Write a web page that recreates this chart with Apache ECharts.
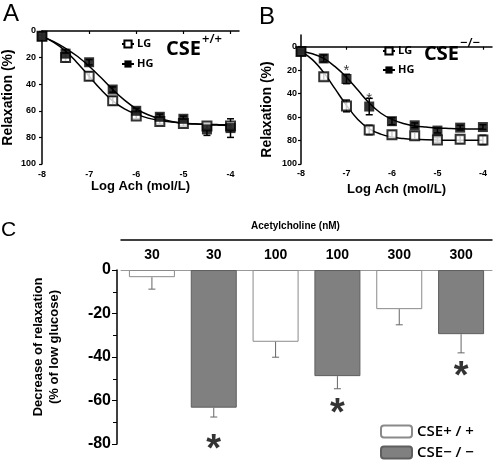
<!DOCTYPE html>
<html>
<head>
<meta charset="utf-8">
<script src="https://cdn.jsdelivr.net/npm/echarts@6/dist/echarts.min.js"></script>
<style>
html,body{margin:0;padding:0;background:#fff;}
#chart{width:495px;height:461px;}
</style>
</head>
<body>
<div id="chart"></div>
<script>
// ---------- Data ----------
const logAch = [-8, -7.5, -7, -6.5, -6, -5.5, -5, -4.5, -4];
const xTicks = [-8, -7, -6, -5, -4];
const yTicks = [0, 20, 40, 60, 80, 100];

// Panel A (CSE+/+)
const A_LG = [4, 20, 34, 52.5, 64, 68, 69.5, 71.5, 71.5];
const A_HG = [4, 17, 23.5, 44, 60, 64.5, 66, 74, 73];
const A_LG_err = [1, 3, 3, 3, 2, 2, 2, 2, 2];
const A_HG_err = [1, 3, 2, 2, 2, 2, 2, 4.5, 7];

// Panel B (CSE-/-)
const B_LG = [4, 25.5, 50.5, 71, 75, 76, 79.5, 79, 79.5];
const B_HG = [4, 10, 27.5, 51, 63.5, 67, 71.5, 69, 68.5];
const B_LG_err = [1, 3, 5, 4, 3, 3, 2, 3, 4];
const B_HG_err = [1, 3, 4, 7, 3, 2, 2, 2, 2];
const B_stars = [[-7, 18], [-6.5, 42]];

// Fitted curves
const curveX = [-8, -7.75, -7.5, -7.25, -7, -6.75, -6.5, -6.25, -6, -5.75, -5.5, -5.25, -5, -4.75, -4.5, -4.25, -4];
const A_LG_curve = [4, 8.5, 15, 24, 34, 44, 52.5, 58.5, 62.5, 65.5, 67.3, 68.5, 69.3, 69.8, 70.2, 70.4, 70.5];
const A_HG_curve = [4, 8, 13, 19, 26.5, 35, 44, 52, 58.5, 63, 66, 68, 69.3, 70, 70.5, 70.8, 71];
const B_LG_curve = [4, 11, 22, 36, 50, 62, 70, 74.5, 77, 78.3, 79, 79.4, 79.6, 79.7, 79.8, 79.8, 79.8];
const B_HG_curve = [4, 6, 10, 17, 26, 37, 48, 56.5, 62, 65.5, 67.5, 68.5, 69.3, 69.7, 70, 70.1, 70.2];

// Panel C
const C_categories = ['30', '30', '100', '100', '300', '300'];
const C_wt = [-3.3, '-', -33, '-', -18, '-'];
const C_ko = ['-', -63.3, '-', -48.8, '-', -29.5];
const C_err = [5.5, 4.3, 7.1, 5.8, 7.2, 8.6];
const C_starIdx = [1, 3, 5];
const C_starVal = [-79, -62.5, -45.3];

// ---------- helpers ----------
const pairs = (xs, ys) => xs.map((x, i) => [x, ys[i]]);
const triples = (xs, ys, es) => xs.map((x, i) => [x, ys[i], es[i]]);
const AX = 'Liberation Sans, Arial, sans-serif';
const HUM = 'Open Sans, Noto Sans, sans-serif';

function errRender(params, api) {
  const x = api.value(0), y = api.value(1), e = api.value(2);
  const p1 = api.coord([x, y - e]);
  const p2 = api.coord([x, y + e]);
  const w = 3.5;
  const st = { stroke: '#000', lineWidth: 1.5 };
  return { type: 'group', children: [
    { type: 'line', shape: { x1: p1[0], y1: p1[1], x2: p2[0], y2: p2[1] }, style: st },
    { type: 'line', shape: { x1: p1[0] - w, y1: p1[1], x2: p1[0] + w, y2: p1[1] }, style: st },
    { type: 'line', shape: { x1: p2[0] - w, y1: p2[1], x2: p2[0] + w, y2: p2[1] }, style: st }
  ]};
}

function errRenderDown(params, api) {
  const x = api.value(0), y = api.value(1), e = api.value(2);
  const p1 = api.coord([x, y]);
  const p2 = api.coord([x, y - e]);
  const w = 3.5;
  const st = { stroke: '#666', lineWidth: 1 };
  return { type: 'group', children: [
    { type: 'line', shape: { x1: p1[0], y1: p1[1], x2: p2[0], y2: p2[1] }, style: st },
    { type: 'line', shape: { x1: p2[0] - w, y1: p2[1], x2: p2[0] + w, y2: p2[1] }, style: st }
  ]};
}

function doseXAxis(gridIndex, max, nameGap, labelMargin) {
  return {
    type: 'value', gridIndex, min: -8, max, position: 'bottom',
    name: 'Log Ach (mol/L)', nameLocation: 'middle', nameGap,
    nameTextStyle: { fontFamily: AX, fontWeight: 'bold', fontSize: 13, color: '#000' },
    axisLine: { lineStyle: { color: '#000', width: 1.5 } },
    axisTick: { show: true, length: 3, customValues: xTicks, lineStyle: { color: '#000', width: 1.2 } },
    axisLabel: { customValues: xTicks, margin: labelMargin, fontFamily: AX, fontWeight: 'bold', fontSize: 9, color: '#000' },
    splitLine: { show: false }
  };
}
function relaxYAxis(gridIndex, min, labelMargin, namePad) {
  return {
    type: 'value', gridIndex, min, max: 100, inverse: true,
    name: 'Relaxation (%)', nameLocation: 'middle', nameGap: 27,
    nameTextStyle: { fontFamily: AX, fontWeight: 'bold', fontSize: 14, color: '#000', padding: namePad },
    axisLine: { show: true, lineStyle: { color: '#000', width: 1.5 } },
    axisTick: { show: true, length: 3, customValues: yTicks, lineStyle: { color: '#000', width: 1.2 } },
    axisLabel: { customValues: yTicks, margin: labelMargin, fontFamily: AX, fontWeight: 'bold', fontSize: 9, color: '#000' },
    splitLine: { show: false }
  };
}

function panelSeries(idx, lg, hg, lgErr, hgErr, lgCurve, hgCurve) {
  const ax = { xAxisIndex: idx, yAxisIndex: idx };
  return [
    Object.assign({ type: 'line', name: 'LG', data: pairs(curveX, lgCurve), smooth: 0.4, showSymbol: false,
      symbol: 'rect', symbolSize: 8, silent: true,
      lineStyle: { color: '#000', width: 1.5 },
      itemStyle: { color: '#fff', borderColor: '#000', borderWidth: 1.8 }, z: 2 }, ax),
    Object.assign({ type: 'line', name: 'HG', data: pairs(curveX, hgCurve), smooth: 0.4, showSymbol: false,
      symbol: 'rect', symbolSize: 8, silent: true,
      lineStyle: { color: '#000', width: 1.5 },
      itemStyle: { color: '#000', borderColor: '#000', borderWidth: 0 }, z: 2 }, ax),
    Object.assign({ type: 'custom', name: 'LG err', data: triples(logAch, lg, lgErr), renderItem: errRender, z: 3, silent: true }, ax),
    Object.assign({ type: 'custom', name: 'HG err', data: triples(logAch, hg, hgErr), renderItem: errRender, z: 3, silent: true }, ax),
    Object.assign({ type: 'scatter', name: 'LG pts', data: pairs(logAch, lg), symbol: 'rect', symbolSize: 9,
      itemStyle: { color: '#fff', borderColor: '#000', borderWidth: 2 }, z: 5 }, ax),
    Object.assign({ type: 'scatter', name: 'HG pts', data: pairs(logAch, hg), symbol: 'rect', symbolSize: 10,
      itemStyle: { color: '#000' }, z: 6 }, ax)
  ];
}

const chart = echarts.init(document.getElementById('chart'), null, { renderer: 'canvas' });

const option = {
  backgroundColor: '#fff',
  animation: false,
  grid: [
    { left: 41.7, top: 31, width: 197.3, height: 133 },
    { left: 301, top: 35, width: 191, height: 129 },
    { left: 121, top: 270, width: 371, height: 174 }
  ],
  xAxis: [
    doseXAxis(0, -3.82, 14, 6),
    doseXAxis(1, -3.8, 19, 5),
    {
      type: 'category', gridIndex: 2, data: C_categories, position: 'top',
      axisLine: { lineStyle: { color: '#999', width: 1 } },
      axisTick: { show: false },
      axisLabel: { margin: 8, fontFamily: AX, fontWeight: 'bold', fontSize: 14, color: '#000' },
      splitLine: { show: false }
    },
    {
      type: 'category', gridIndex: 2, data: C_categories, position: 'top', offset: 30,
      name: 'Acetylcholine (nM)', nameLocation: 'middle', nameGap: 9,
      nameTextStyle: { fontFamily: AX, fontWeight: 'bold', fontSize: 10, color: '#000', padding: [0, 22, 0, 0] },
      axisLine: { lineStyle: { color: '#000', width: 1.5 } },
      axisTick: { show: false }, axisLabel: { show: false }, splitLine: { show: false }
    }
  ],
  yAxis: [
    relaxYAxis(0, 0, 6, 0),
    relaxYAxis(1, -10, 4, [0, 20, 0, 0]),
    {
      type: 'value', gridIndex: 2, min: -80, max: 0, interval: 20, offset: 4,
      name: 'Decrease of relaxation\n(% of low glucose)', nameLocation: 'middle', nameGap: 55,
      nameTextStyle: { fontFamily: AX, fontWeight: 'bold', fontSize: 13, color: '#000', lineHeight: 16, padding: [0, 0, 0, 20] },
      axisLine: { show: true, lineStyle: { color: '#000', width: 1.5 } },
      axisTick: { show: true, length: 5, lineStyle: { color: '#000', width: 1 } },
      minorTick: { show: true, splitNumber: 2, length: 4, lineStyle: { color: '#000', width: 1 } },
      axisLabel: { margin: 6, fontFamily: AX, fontWeight: 'bold', fontSize: 16, color: '#000' },
      splitLine: { show: false }
    }
  ],
  legend: [
    { data: ['LG', 'HG'], orient: 'vertical', left: 121, top: 38.5, itemWidth: 12, itemHeight: 9, itemGap: 9, padding: 0,
      selectedMode: false, textStyle: { fontFamily: HUM, fontWeight: 'bold', fontSize: 11, lineHeight: 9, color: '#000', padding: [0, 0, 0, -2] } },
    { data: ['LG', 'HG'], orient: 'vertical', left: 382, top: 45.5, itemWidth: 12, itemHeight: 9, itemGap: 8, padding: 0,
      selectedMode: false, textStyle: { fontFamily: HUM, fontWeight: 'bold', fontSize: 11, lineHeight: 9, color: '#000', padding: [0, 0, 0, -2] } },
    { data: ['CSE+ / +', 'CSE\u2212 / \u2212'], orient: 'vertical', left: 380, top: 424, itemWidth: 31, itemHeight: 12, itemGap: 6, padding: 0,
      height: 40,
      selectedMode: false, textStyle: { fontFamily: HUM, fontWeight: 600, fontSize: 15, lineHeight: 12, color: '#000' } }
  ],
  graphic: [
    { type: 'text', left: 3, top: 2, style: { text: 'A', font: '24px ' + AX, fill: '#000' } },
    { type: 'text', left: 259, top: 5, style: { text: 'B', font: '24px ' + AX, fill: '#000' } },
    { type: 'text', left: 1, top: 220, style: { text: 'C', font: '21px ' + AX, fill: '#000' } },
    { type: 'text', left: 166, top: 39, style: { text: 'CSE', font: '700 20px ' + HUM, fill: '#000' } },
    { type: 'text', left: 202, top: 33, style: { text: '+/+', font: '600 13px ' + HUM, fill: '#000' } },
    { type: 'text', left: 424, top: 44, style: { text: 'CSE', font: '700 20px ' + HUM, fill: '#000' } },
    { type: 'text', left: 460, top: 37, style: { text: '\u2212/\u2212', font: '600 13px ' + HUM, fill: '#000' } }
  ],
  series: [
    ...panelSeries(0, A_LG, A_HG, A_LG_err, A_HG_err, A_LG_curve, A_HG_curve),
    ...panelSeries(1, B_LG, B_HG, B_LG_err, B_HG_err, B_LG_curve, B_HG_curve),
    {
      type: 'scatter', name: 'B stars', xAxisIndex: 1, yAxisIndex: 1, data: B_stars, symbolSize: 0,
      label: { show: true, formatter: '*', position: 'inside', fontFamily: AX, fontSize: 15, color: '#000', offset: [0, 3] }
    },
    {
      type: 'bar', name: 'CSE+ / +', xAxisIndex: 2, yAxisIndex: 2, data: C_wt, barWidth: 46, barGap: '-100%',
      itemStyle: { color: '#fff', borderColor: '#8a8a8a', borderWidth: 1 }
    },
    {
      type: 'bar', name: 'CSE\u2212 / \u2212', xAxisIndex: 2, yAxisIndex: 2, data: C_ko, barWidth: 46, barGap: '-100%',
      itemStyle: { color: '#808080', borderColor: '#5e5e5e', borderWidth: 1 }
    },
    {
      type: 'custom', name: 'C err', xAxisIndex: 2, yAxisIndex: 2,
      data: C_err.map((e, i) => [i, C_wt[i] === '-' ? C_ko[i] : C_wt[i], e]),
      renderItem: errRenderDown, z: 3, silent: true
    },
    {
      type: 'scatter', name: 'C stars', xAxisIndex: 2, yAxisIndex: 2,
      data: C_starIdx.map((c, i) => [c, C_starVal[i]]), symbolSize: 0,
      label: { show: true, formatter: '*', position: 'inside', fontFamily: AX, fontWeight: 'bold', fontSize: 38, color: '#000', offset: [0, 9] }
    }
  ]
};
chart.setOption(option);
</script>
</body>
</html>
